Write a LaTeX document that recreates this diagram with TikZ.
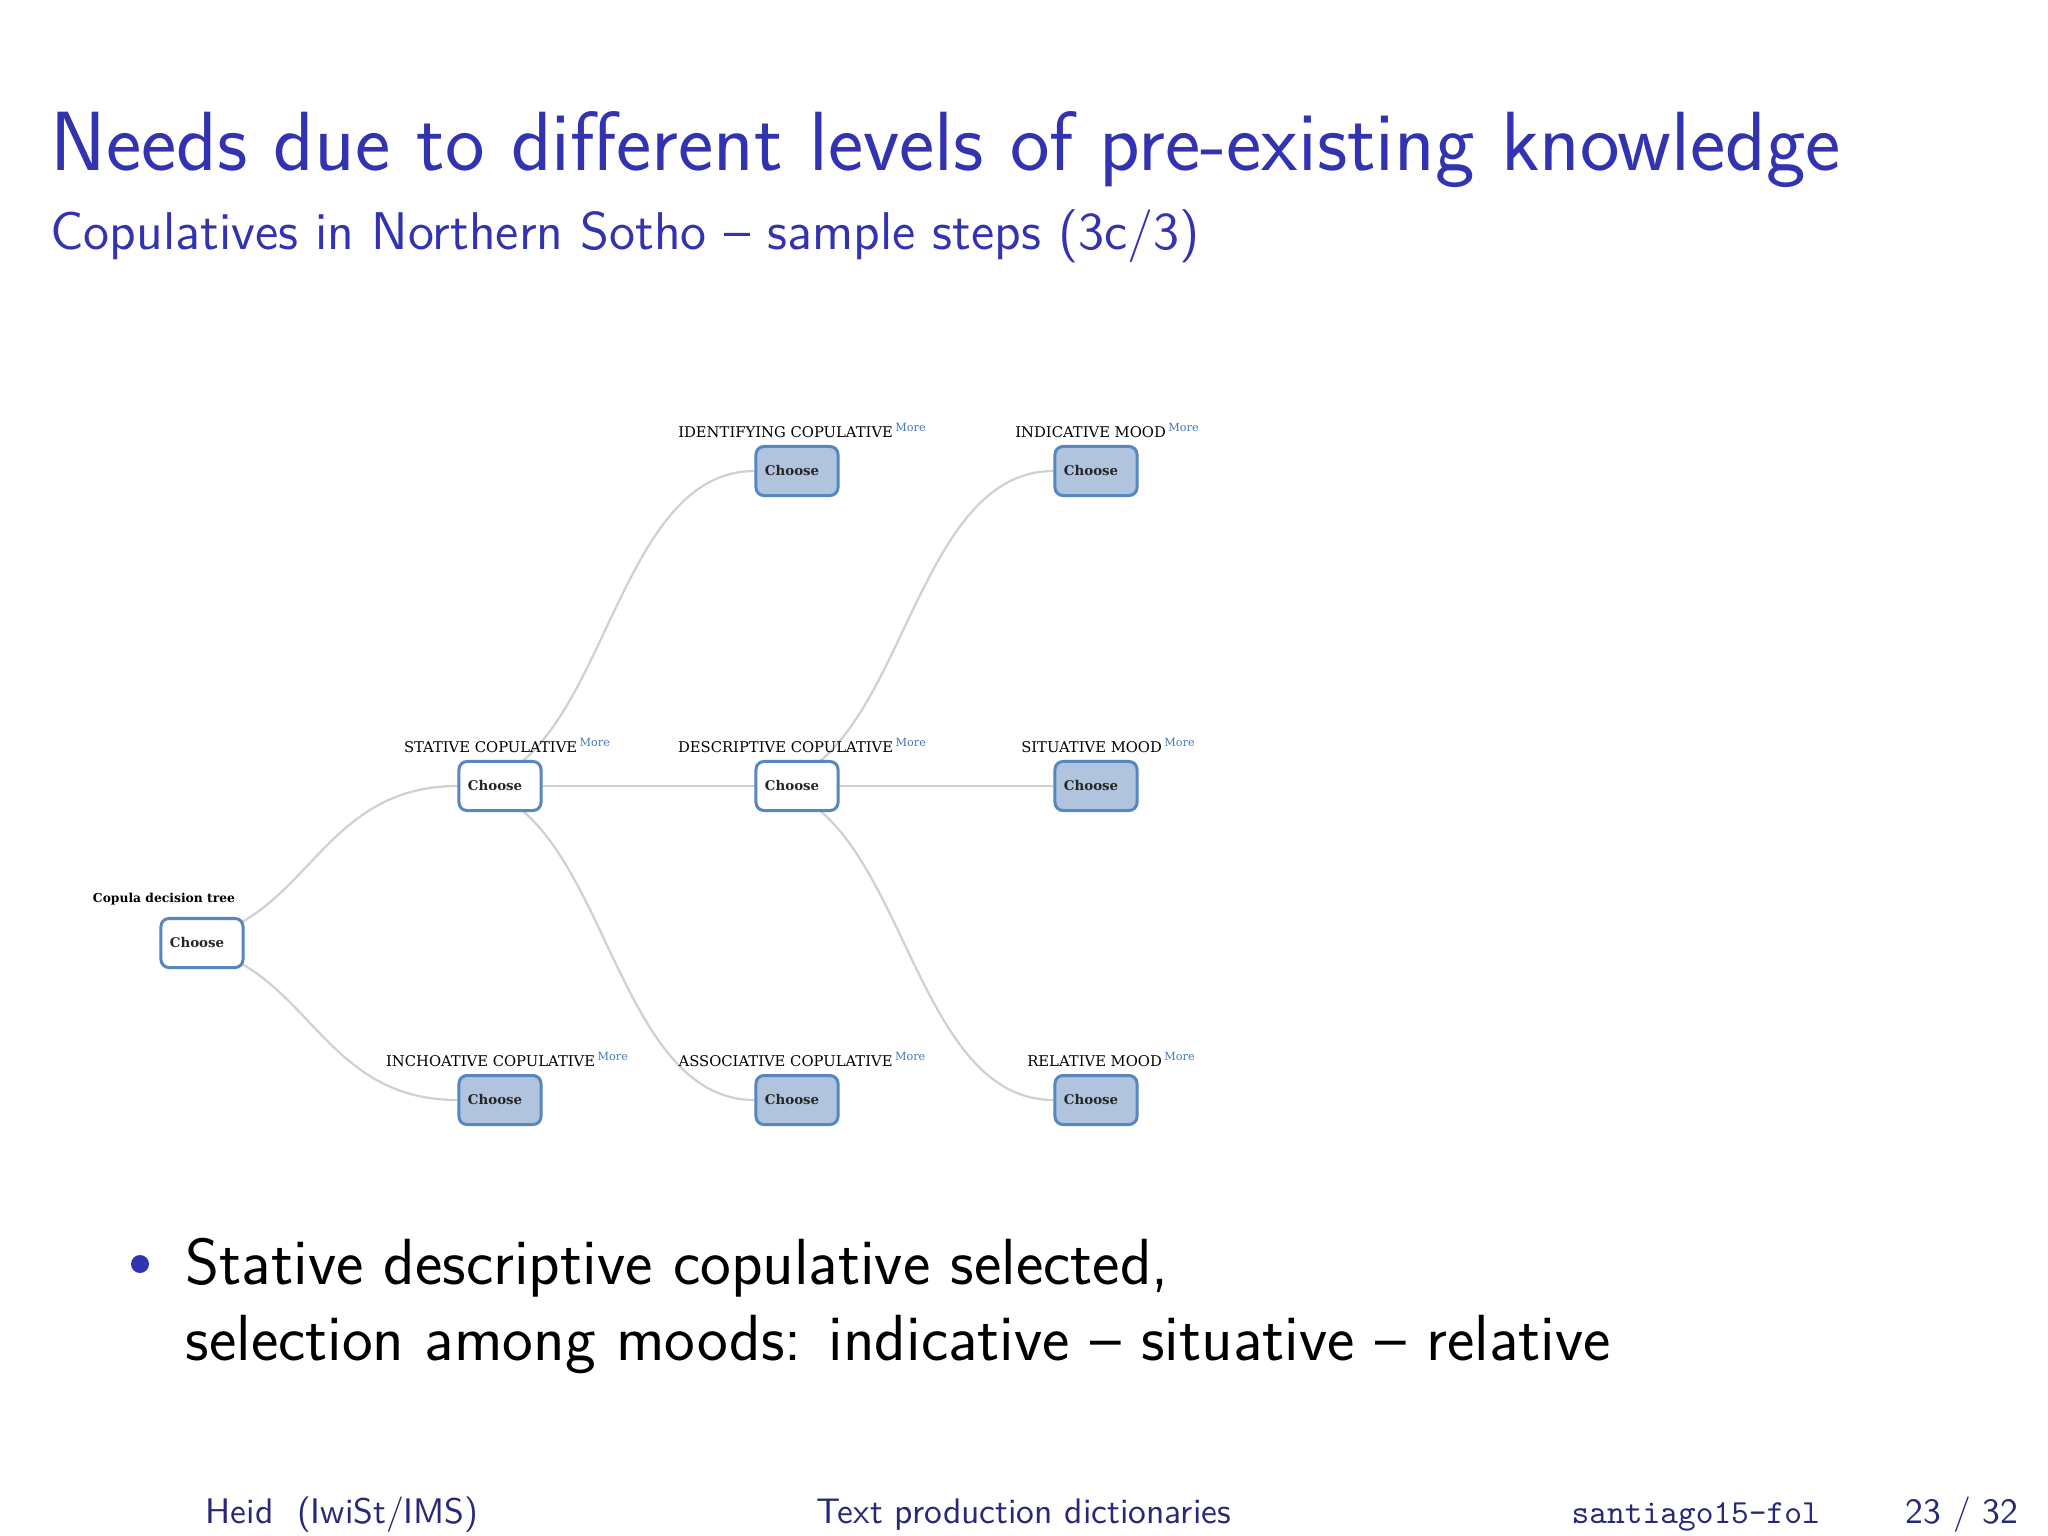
\documentclass[tikz,border=0pt]{standalone}
\usepackage{fontspec}
\newfontfamily\treefont{DejaVu Serif}
\usetikzlibrary{calc,positioning,backgrounds}
\definecolor{slideblue}{RGB}{51,51,178}
\definecolor{footblue}{RGB}{40,40,120}
\definecolor{boxline}{RGB}{88,135,192}
\definecolor{boxfill}{RGB}{176,196,222}
\definecolor{linkgray}{RGB}{208,208,208}
\definecolor{moreblue}{RGB}{70,120,190}
\def\branch(#1)(#2){\draw[link] let \p1=(#1.west), \p2=(#2.west) in (\p1) .. controls ({0.5*\x1+0.5*\x2},\y1) and ({0.5*\x1+0.5*\x2},\y2) .. (\p2);}
\def\more{\,\raisebox{0.06cm}{\fontsize{3.2}{4}\selectfont\color{moreblue}More}}

\begin{document}
\begin{tikzpicture}[x=0.01cm,y=-0.01cm,
	choice/.style={draw=boxline, line width=0.03cm, rounded corners=0.08cm, fill=boxfill,
		minimum height=0.49cm, text width=0.64cm, inner xsep=0.09cm, inner ysep=0pt, align=left,
		font=\treefont\bfseries\fontsize{3.8}{4}\selectfont, text=black!85},
	picked/.style={choice, fill=white},
	lbl/.style={inner sep=0pt, font=\treefont\fontsize{4.2}{5}\selectfont, text=black},
	link/.style={draw=linkgray, line width=0.022cm}]
			%%%%% SLIDE %%%%%
			
			\useasboundingbox (0,0) rectangle (2048,1536);
			
			\node[anchor=base west, inner sep=0pt, text=slideblue, font=\sffamily\fontsize{23.9}{28}\selectfont] (title) at (50,170) {Needs due to different levels of pre-existing knowledge};
			\node[anchor=base west, inner sep=0pt, text=slideblue, font=\sffamily\fontsize{15.1}{18}\selectfont] (subtitle) at (50,249) {Copulatives in Northern Sotho -- sample steps (3c/3)};
			
			%%%%% TREE %%%%%
			
			\node[picked] (root) at (202,943) {Choose};
			\node[picked] (stat) at (500,786) {Choose};
			\node[choice] (inch) at (500,1100) {Choose};
			\node[choice] (ident) at (797,471) {Choose};
			\node[picked] (descr) at (797,786) {Choose};
			\node[choice] (assoc) at (797,1100) {Choose};
			\node[choice] (indic) at (1096,471) {Choose};
			\node[choice] (situ) at (1096,786) {Choose};
			\node[choice] (rel) at (1096,1100) {Choose};
			
			\node[lbl, font=\treefont\bfseries\fontsize{3.5}{4}\selectfont, above=0.11cm of root, xshift=-0.38cm] (root-l) {Copula decision tree};
			\node[lbl, above=0.07cm of stat, xshift=0.07cm] (stat-l) {STATIVE COPULATIVE\more};
			\node[lbl, above=0.07cm of inch, xshift=0.07cm] (inch-l) {INCHOATIVE COPULATIVE\more};
			\node[lbl, above=0.07cm of ident, xshift=0.05cm] (ident-l) {IDENTIFYING COPULATIVE\more};
			\node[lbl, above=0.07cm of descr, xshift=0.05cm] (descr-l) {DESCRIPTIVE COPULATIVE\more};
			\node[lbl, above=0.07cm of assoc, xshift=0.05cm] (assoc-l) {ASSOCIATIVE COPULATIVE\more};
			\node[lbl, above=0.07cm of indic, xshift=0.11cm] (indic-l) {INDICATIVE MOOD\more};
			\node[lbl, above=0.07cm of situ, xshift=0.12cm] (situ-l) {SITUATIVE MOOD\more};
			\node[lbl, above=0.07cm of rel, xshift=0.15cm] (rel-l) {RELATIVE MOOD\more};
			
			\begin{pgfonlayer}{background}
			\fill[white] (0,0) rectangle (2048,1536);
			\branch(root)(stat)
			\branch(root)(inch)
			\branch(stat)(ident)
			\branch(stat)(descr)
			\branch(stat)(assoc)
			\branch(descr)(indic)
			\branch(descr)(situ)
			\branch(descr)(rel)
			\end{pgfonlayer}
			
			%%%%% TEXT %%%%%
			
			\fill[slideblue] (140,1264) circle[radius=0.09cm];
			\node[anchor=base west, inner sep=0pt, font=\sffamily\fontsize{18.55}{22}\selectfont] (line-a) at (185,1284) {Stative descriptive copulative selected,};
			\node[anchor=base west, inner sep=0pt, font=\sffamily\fontsize{18.55}{22}\selectfont] (line-b) at (185,1360) {selection among moods: indicative -- situative -- relative};
			
			\node[anchor=base west, inner sep=0pt, text=footblue, font=\sffamily\fontsize{10.1}{12}\selectfont] (foot-a) at (205,1523) {Heid\ \ (IwiSt/IMS)};
			\node[anchor=base west, inner sep=0pt, text=footblue, font=\sffamily\fontsize{10.1}{12}\selectfont] (foot-b) at (816,1523) {Text production dictionaries};
			\node[anchor=base west, inner sep=0pt, text=footblue, font=\ttfamily\fontsize{9.6}{12}\selectfont] (foot-c) at (1571,1523) {santiago15-fol};
			\node[anchor=base west, inner sep=0pt, text=footblue, font=\sffamily\fontsize{10.1}{12}\selectfont] (foot-d) at (1905,1523) {23 / 32};
			
			%%%%% END %%%%%
\end{tikzpicture}
\end{document}
